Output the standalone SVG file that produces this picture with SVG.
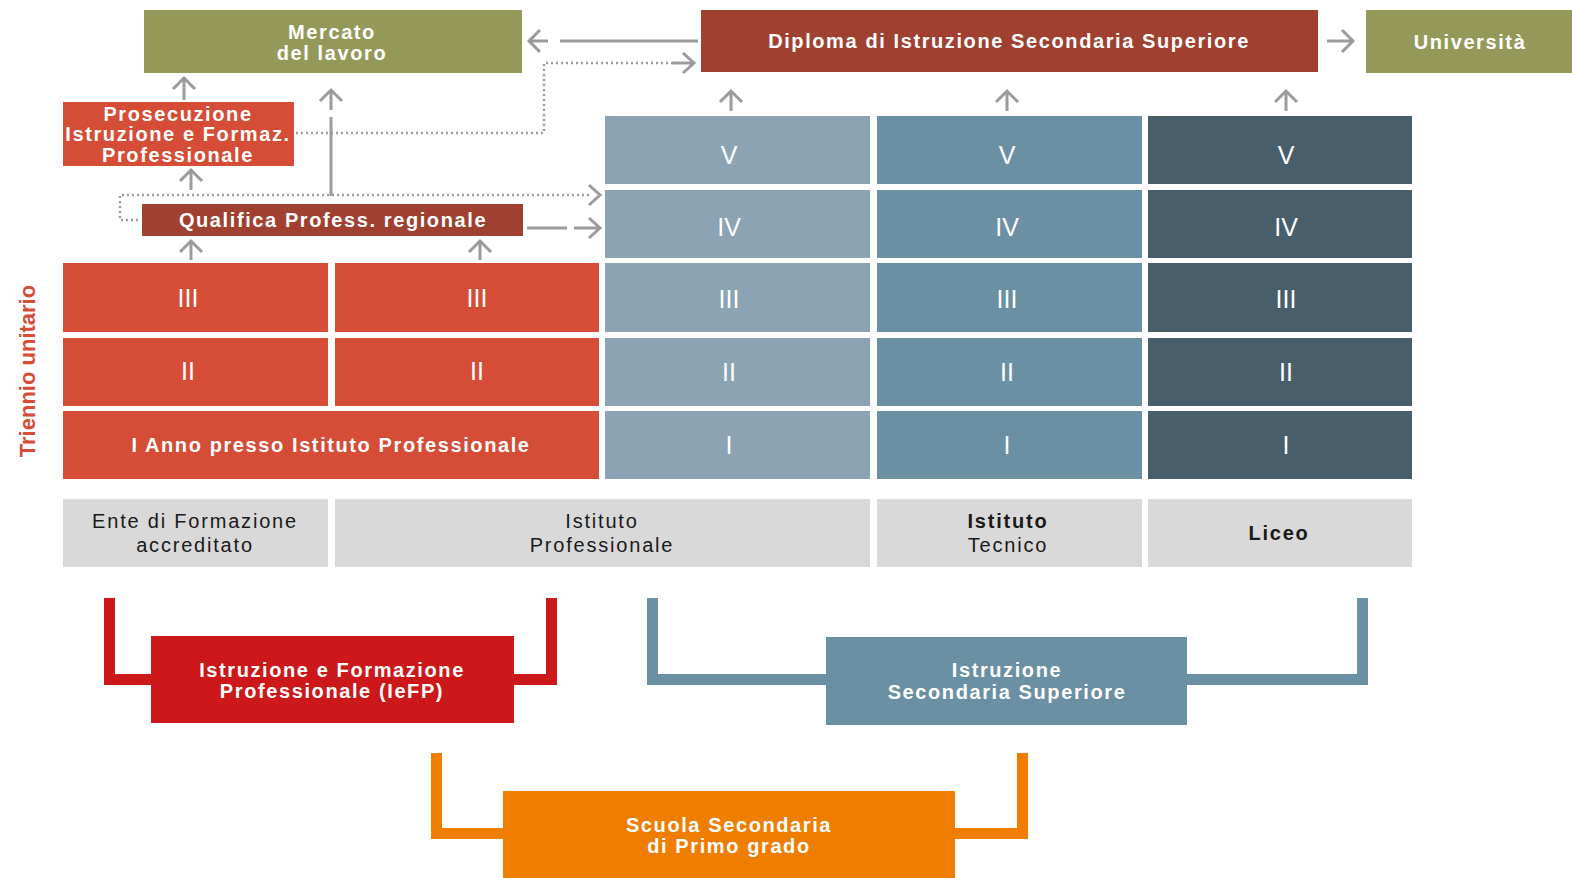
<svg xmlns="http://www.w3.org/2000/svg" width="1572" height="878" viewBox="0 0 1572 878">
<style>
  .olive{fill:#94995a}
  .brick{fill:#a04030}
  .red{fill:#d54c37}
  .b1{fill:#8ba3b2}
  .b2{fill:#6b8fa3}
  .b3{fill:#485f6b}
  .gray{fill:#d9d9d9}
  .wl{font-family:"Liberation Sans",Arial,sans-serif;font-weight:bold;font-size:20px;letter-spacing:1.6px;fill:#fff;text-anchor:middle;dominant-baseline:central}
  .num{font-family:"Liberation Sans",Arial,sans-serif;font-size:25px;fill:#fff;text-anchor:middle;dominant-baseline:central}
  .gl{font-family:"Liberation Sans",Arial,sans-serif;font-size:20px;letter-spacing:1.8px;fill:#1a1a1a;text-anchor:middle;dominant-baseline:central}
  .arr{fill:none;stroke:#9b9b9b;stroke-width:3}
  .dot{fill:none;stroke:#9b9b9b;stroke-width:2.5;stroke-dasharray:2 3}
</style>
<rect width="1572" height="878" fill="#fff"/>

<g id="connectors">
  <path class="arr" d="M560 41 H698"/>
  <path class="arr" d="M548 41 H529 M540 30 L529 41 L540 52"/>
  <path class="arr" d="M1327 41 H1353 M1342 30 L1353 41 L1342 52"/>
  <path class="dot" d="M296 133 H544 V63 H672"/>
  <path class="arr" d="M672 63 H694 M683 53 L694 63 L683 73"/>
  <path class="arr" d="M184 100 V78 M173 89 L184 78 L195 89"/>
  <path class="arr" d="M331 196 V117"/>
  <path class="arr" d="M331 110 V90 M320 101 L331 90 L342 101"/>
  <path class="arr" d="M191 190 V170 M180 181 L191 170 L202 181"/>
  <path class="dot" d="M138 220 H120 V195 H592"/>
  <path class="arr" d="M589 185 L600 195 L589 205"/>
  <path class="arr" d="M527 228 H567"/>
  <path class="arr" d="M574 228 H600 M589 218 L600 228 L589 238"/>
  <path class="arr" d="M191 260 V241 M180 252 L191 241 L202 252"/>
  <path class="arr" d="M480 260 V241 M469 252 L480 241 L491 252"/>
  <path class="arr" d="M731 111 V91 M720 102 L731 91 L742 102"/>
  <path class="arr" d="M1007 111 V91 M996 102 L1007 91 L1018 102"/>
  <path class="arr" d="M1286 111 V91 M1275 102 L1286 91 L1297 102"/>
</g>

<g id="mercato">
  <rect class="olive" x="144" y="10" width="378" height="63"/>
  <text class="wl" x="332" y="32">Mercato</text>
  <text class="wl" x="332" y="53">del lavoro</text>
</g>
<g id="diploma">
  <rect class="brick" x="701" y="10" width="617" height="62"/>
  <text class="wl" x="1009" y="41">Diploma di Istruzione Secondaria Superiore</text>
</g>
<g id="universita">
  <rect class="olive" x="1366" y="10" width="206" height="63"/>
  <text class="wl" x="1470" y="42">Università</text>
</g>
<g id="prosecuzione">
  <rect class="red" x="63" y="102" width="231" height="64"/>
  <text class="wl" x="178" y="114">Prosecuzione</text>
  <text class="wl" x="178" y="134">Istruzione e Formaz.</text>
  <text class="wl" x="178" y="155">Professionale</text>
</g>
<g id="qualifica">
  <rect class="brick" x="142" y="204" width="381" height="32"/>
  <text class="wl" x="333" y="220">Qualifica Profess. regionale</text>
</g>

<g id="triennio">
  <text x="27" y="371" transform="rotate(-90 27 371)" font-family="'Liberation Sans',Arial,sans-serif" font-weight="bold" font-size="22" fill="#d54c37" text-anchor="middle" dominant-baseline="central">Triennio unitario</text>
</g>

<g id="iefp-grid">
  <rect class="red" x="63" y="263" width="265" height="69"/>
  <text class="num" x="188" y="298">III</text>
  <rect class="red" x="335" y="263" width="264" height="69"/>
  <text class="num" x="477" y="298">III</text>
  <rect class="red" x="63" y="338" width="265" height="68"/>
  <text class="num" x="188" y="371">II</text>
  <rect class="red" x="335" y="338" width="264" height="68"/>
  <text class="num" x="477" y="371">II</text>
  <rect class="red" x="63" y="411" width="536" height="68"/>
  <text class="wl" x="331" y="445">I Anno presso Istituto Professionale</text>
</g>

<g id="col-professionale">
  <rect class="b1" x="605" y="116" width="265" height="68"/>
  <text class="num" x="729" y="155">V</text>
  <rect class="b1" x="605" y="190" width="265" height="68"/>
  <text class="num" x="729" y="227">IV</text>
  <rect class="b1" x="605" y="263" width="265" height="69"/>
  <text class="num" x="729" y="299">III</text>
  <rect class="b1" x="605" y="338" width="265" height="68"/>
  <text class="num" x="729" y="372">II</text>
  <rect class="b1" x="605" y="411" width="265" height="68"/>
  <text class="num" x="729" y="445">I</text>
</g>
<g id="col-tecnico">
  <rect class="b2" x="877" y="116" width="265" height="68"/>
  <text class="num" x="1007" y="155">V</text>
  <rect class="b2" x="877" y="190" width="265" height="68"/>
  <text class="num" x="1007" y="227">IV</text>
  <rect class="b2" x="877" y="263" width="265" height="69"/>
  <text class="num" x="1007" y="299">III</text>
  <rect class="b2" x="877" y="338" width="265" height="68"/>
  <text class="num" x="1007" y="372">II</text>
  <rect class="b2" x="877" y="411" width="265" height="68"/>
  <text class="num" x="1007" y="445">I</text>
</g>
<g id="col-liceo">
  <rect class="b3" x="1148" y="116" width="264" height="68"/>
  <text class="num" x="1286" y="155">V</text>
  <rect class="b3" x="1148" y="190" width="264" height="68"/>
  <text class="num" x="1286" y="227">IV</text>
  <rect class="b3" x="1148" y="263" width="264" height="69"/>
  <text class="num" x="1286" y="299">III</text>
  <rect class="b3" x="1148" y="338" width="264" height="68"/>
  <text class="num" x="1286" y="372">II</text>
  <rect class="b3" x="1148" y="411" width="264" height="68"/>
  <text class="num" x="1286" y="445">I</text>
</g>

<g id="label-ente">
  <rect class="gray" x="63" y="499" width="265" height="68"/>
  <text class="gl" x="195" y="521">Ente di Formazione</text>
  <text class="gl" x="195" y="545">accreditato</text>
</g>
<g id="label-professionale">
  <rect class="gray" x="335" y="499" width="535" height="68"/>
  <text class="gl" x="602" y="521">Istituto</text>
  <text class="gl" x="602" y="545">Professionale</text>
</g>
<g id="label-tecnico">
  <rect class="gray" x="877" y="499" width="265" height="68"/>
  <text class="gl" x="1008" y="521" font-weight="bold">Istituto</text>
  <text class="gl" x="1008" y="545">Tecnico</text>
</g>
<g id="label-liceo">
  <rect class="gray" x="1148" y="499" width="264" height="68"/>
  <text class="gl" x="1279" y="533" font-weight="bold">Liceo</text>
</g>

<g id="iefp">
  <path d="M104 598 H115 V674 H151 V685 H104 Z M546 598 H557 V685 H513 V674 H546 Z" fill="#cc181a"/>
  <rect x="151" y="636" width="363" height="87" fill="#cc181a"/>
  <text class="wl" x="332" y="670">Istruzione e Formazione</text>
  <text class="wl" x="332" y="691">Professionale (IeFP)</text>
</g>
<g id="iss">
  <path d="M647 598 H658 V674 H826 V685 H647 Z M1357 598 H1368 V685 H1187 V674 H1357 Z" fill="#6b8fa3"/>
  <rect x="826" y="637" width="361" height="88" fill="#6b8fa3"/>
  <text class="wl" x="1007" y="670">Istruzione</text>
  <text class="wl" x="1007" y="692">Secondaria Superiore</text>
</g>
<g id="scuola-primo">
  <path d="M431 753 H442 V828 H503 V839 H431 Z M1017 753 H1028 V839 H955 V828 H1017 Z" fill="#ee7d00"/>
  <rect x="503" y="791" width="452" height="87" fill="#ee7d00"/>
  <text class="wl" x="729" y="825">Scuola Secondaria</text>
  <text class="wl" x="729" y="846">di Primo grado</text>
</g>
</svg>
